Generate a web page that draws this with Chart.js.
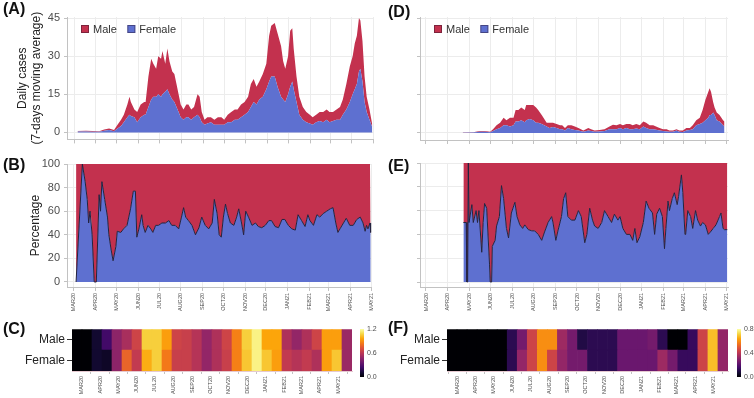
<!DOCTYPE html>
<html><head><meta charset="utf-8">
<script src="https://cdn.jsdelivr.net/npm/chart.js@4.4.1/dist/chart.umd.min.js"></script>
<style>
html,body{margin:0;padding:0;background:#fff;width:754px;height:398px;overflow:hidden;position:relative;font-family:"Liberation Sans",Arial,sans-serif}
canvas{position:absolute}
.pl{position:absolute;font-weight:bold;font-size:16px;line-height:16px;color:#111}
</style></head><body>
<canvas id="cA" width="380" height="150" style="left:0;top:0"></canvas>
<canvas id="cB" width="380" height="170" style="left:0;top:150px"></canvas>
<canvas id="cC" width="380" height="78" style="left:0;top:320px"></canvas>
<canvas id="cCbar" width="28" height="78" style="left:352px;top:320px"></canvas>
<canvas id="cD" width="374" height="150" style="left:380px;top:0"></canvas>
<canvas id="cE" width="374" height="170" style="left:380px;top:150px"></canvas>
<canvas id="cF" width="374" height="78" style="left:380px;top:320px"></canvas>
<canvas id="cFbar" width="26" height="78" style="left:728px;top:320px"></canvas>
<div class="pl" style="left:3px;top:1px">(A)</div>
<div class="pl" style="left:3px;top:157px">(B)</div>
<div class="pl" style="left:3px;top:321px">(C)</div>
<div class="pl" style="left:388px;top:4px">(D)</div>
<div class="pl" style="left:388px;top:158px">(E)</div>
<div class="pl" style="left:388px;top:320px">(F)</div>
<script>
// ---------- axis labels ----------
const MONTH_LABELS = ['MAR20','APR20','MAY20','JUN20','JUL20','AUG20','SEP20','OCT20','NOV20','DEC20','JAN21','FEB21','MAR21','APR21','MAY21'];
const MONTH_DAYS = [0,31,61,92,122,153,184,214,245,275,306,337,365,396,426]; // days since 1 Mar 2020
const SERIES = ['Male','Female'];
const CASE_TICKS = [0,15,30,45];
const PCT_TICKS = [0,20,40,60,80,100];
const BAR_TICKS_C = [0,0.6,1.2];
const BAR_TICKS_F = [0,0.4,0.8];

// ---------- (A) daily cases ----------
const aDays = [5,17,26,36,43,50,57,62,67,71,76,79,81,86,90,95,100,102,106,110,113,117,120,124,126,130,133,136,140,143,146,149,152,156,160,163,167,171,176,179,182,186,190,195,200,205,210,214,219,224,229,233,238,243,248,252,256,260,264,269,274,278,281,286,290,295,298,301,305,308,311,313,317,321,326,331,336,340,345,350,355,360,364,369,374,379,383,388,393,397,400,403,406,408,411,414,417,421,425];
const aFemale = [0.4,0.4,0.3,0.3,0.7,1,0.5,1.5,2.5,4,6,7,6.5,6,4,6,7,7,10,13,14,14,15,14,15,16,17,15,13,12,10,8,6,5,6,6,5,6,7,6,4,3,3.5,4,3,3,3,3,4,4,5,5,6,7,8,10,12,11,13,14,17,20,22,22,18,14,13,12,15,18,20,17,12,7,5,4,3.5,3,4,4.5,4,5,4,4.5,5,5,7,9,12,15,17,19,24,25,20,12,8,5,2];
const aMale = [0.2,0.3,0.3,0.2,0.5,0.5,0.5,1.5,2.5,3,5,7,5.5,3,4,5,5,5,12,16,13,11,15,15,17,11,16,13,11,11,9,7,5,4,5,5,4,4,8,8,4,2,2.5,2,2,3,3,2,3,4,4,4,5,5,6,9,9,7,7,9,10,18,20,21,21,20,15,13,15,22,21,16,10,7,5,4,3.5,3,3,3.5,4,4,4,3.5,4,5,6,10,14,15,18,19,21,19,16,10,6,4,1];

// ---------- (B) female percentage ----------
const bDays = [3,12,16,19,21,23,24,26,29,32,36,38,40,44,48,50,53,56,60,62,67,71,76,81,85,88,90,93,97,99,102,106,110,113,117,121,126,131,136,140,145,150,154,157,160,164,169,174,179,183,188,193,198,201,205,208,211,214,217,220,224,229,233,236,240,243,246,250,255,260,264,269,274,279,283,288,293,298,302,307,312,317,321,326,331,335,338,343,348,352,357,362,367,371,375,378,381,386,390,395,400,405,410,414,417,419,421,424,425];
const bFemalePct = [0,100,85,70,50,60,60,40,0,0,74,60,85,70,55,40,28,18,30,43,42,45,48,62,77,77,38,45,57,48,42,48,45,42,48,48,50,50,52,48,48,45,55,63,55,52,48,40,46,55,48,45,50,70,58,40,38,55,66,58,50,48,55,62,50,40,60,55,48,50,47,46,48,52,52,47,46,53,53,48,45,44,57,52,47,57,52,48,57,55,58,60,62,63,50,42,45,50,54,48,48,53,55,50,43,48,45,50,42];

// ---------- (C) heat map (semi-monthly) ----------
const cMale =   [0,0,0.10,0.24,0.46,0.54,0.66,1.06,1.06,0.94,0.66,0.64,0.58,0.48,0.56,0.66,0.86,1.06,1.16,0.96,0.96,0.56,0.48,0.56,0.66,0.94,0.94,0.50];
const cFemale = [0,0,0.10,0.08,0.46,0.78,0.62,0.98,1.06,0.84,0.64,0.64,0.58,0.48,0.56,0.64,0.86,1.04,1.16,1.04,0.94,0.62,0.58,0.62,0.56,0.94,1.04,0.50];

// ---------- (D) daily cases ----------
const dDays = [52,67,76,83,91,95,100,105,110,114,119,124,127,131,135,140,142,147,152,156,159,164,171,175,180,185,190,193,197,201,206,211,216,223,230,234,239,246,253,260,265,270,275,279,284,289,293,298,303,308,312,317,322,326,331,336,341,345,350,355,359,364,369,374,378,383,388,392,396,400,402,404,407,409,412,416,421,423];
const dFemale = [0.1,0.2,0.5,0.5,0.3,0.8,1.5,2,3,3,2.5,3,4.5,4.5,5,4.2,5,5.5,5,4,4,3.5,2.5,2,2.3,2,1.5,1.5,1,2,1.5,1.2,1,0.5,1,0.8,0.5,0.6,0.8,1.5,1.5,1.5,2,1.5,2,1.5,1.5,1.8,1.5,2.5,2,1.5,1.5,1.3,1,0.8,0.6,0.5,0.5,1,0.5,0.4,1,1.2,1.5,3,3.5,4,5,6,7,7,8,7,5,4.5,3,2.5];
const dMale = [0.1,0.1,0.3,0.3,0.2,0.7,1.5,2,3,2,3.5,3,4.5,4.5,5,4.8,6,5.5,6,6,5,3.5,1.5,2,1.7,1.5,1.5,1.5,1,1,1.5,1.3,1,0.5,1,0.7,0.5,0.6,0.7,1,1.7,1.5,1.5,1.5,1.5,2,1.5,1.7,1.5,2,2,1.5,1.5,1.2,1,0.7,0.9,0.5,0.5,0.5,0.5,0.6,1,0.8,1.5,2,2.5,5,8,10,10.5,9,4,3,3,2.5,2,2];

// ---------- (E) female percentage ----------
const eDays = [53,57,58,59,60,61,65,67,71,73,75,79,81,83,86,90,91,93,94,98,100,104,107,110,114,117,121,126,129,133,137,140,145,150,154,159,164,168,173,178,180,184,187,192,195,198,201,206,211,216,220,225,228,232,236,239,244,249,253,258,263,267,272,275,279,284,289,293,296,299,303,308,312,316,321,324,327,331,335,338,340,343,345,349,352,356,358,362,364,367,368,371,375,378,382,385,389,392,396,400,403,407,411,416,418,421,423,427];
const eFemalePct = [50,50,0,0,100,50,65,50,60,50,60,25,50,66,62,15,0,0,30,35,47,55,81,70,45,37,58,67,55,48,45,48,44,43,43,40,35,42,50,55,50,35,43,55,70,75,55,52,52,60,55,33,40,62,52,47,45,50,60,55,50,57,52,55,45,40,40,35,45,33,38,50,68,62,58,40,57,62,55,28,45,68,60,70,75,65,72,90,75,40,40,60,55,45,60,52,47,50,48,40,42,45,48,55,58,45,44,44];

// ---------- (F) heat map ----------
const fMale =   [0,0,0,0,0,0,0.12,0.26,0.44,0.60,0.60,0.34,0.26,0.10,0.12,0.12,0.12,0.24,0.24,0.24,0.26,0.12,0,0,0.14,0.44,0.68,0.32];
const fFemale = [0,0,0,0,0,0,0.12,0.32,0.44,0.60,0.44,0.32,0.26,0.26,0.12,0.12,0.12,0.24,0.24,0.24,0.24,0.34,0.26,0.14,0.14,0.44,0.68,0.32];

// ---------- styling ----------
const RED = '#c3314e', BLUE = '#5e70d0', LINE = '#23233f';
const GRID = '#ececec', AXIS = '#c2c2c2', TXT = '#4d4d4d';
const INFERNO = ['#000004','#160b39','#420a68','#6a176e','#932667','#bc3754','#dd513a','#f37819','#fca50a','#f6d746','#fcffa4'];
const SMALL = 5.5;
Chart.defaults.font.family = '"Liberation Sans", Arial, sans-serif';
Chart.defaults.color = TXT;
Chart.defaults.animation = false;
Chart.defaults.plugins.tooltip.enabled = false;

function hex(c){return [1,3,5].map(i=>parseInt(c.substr(i,2),16));}
function inferno(t){
  t = Math.max(0, Math.min(1, t)); const s = t*10, i = Math.min(9, Math.floor(s)), f = s - i;
  const a = hex(INFERNO[i]), b = hex(INFERNO[i+1]);
  return 'rgb(' + a.map((v,k)=>Math.round(v+(b[k]-v)*f)).join(',') + ')';
}
function pts(days, vals){ return days.map((d,i)=>({x:d, y:vals[i]})); }
function monthTicks(s){ s.ticks = MONTH_DAYS.map(v=>({value:v})); }
function monthLabel(v){ const i = MONTH_DAYS.indexOf(v); return i < 0 ? '' : MONTH_LABELS[i]; }

const inLegend = { id:'inLegend', afterDatasetsDraw(chart, args, o){
  if (!o || !o.show) return;
  const ctx = chart.ctx, ca = chart.chartArea;
  let x = ca.left + o.x; const y = ca.top + o.y;
  ctx.save(); ctx.font = '11px "Liberation Sans", Arial, sans-serif'; ctx.textBaseline = 'middle';
  chart.data.datasets.slice().reverse().forEach(ds => {
    ctx.fillStyle = ds.backgroundColor; ctx.fillRect(x, y, 8, 8);
    ctx.strokeStyle = 'rgba(40,20,40,0.45)'; ctx.lineWidth = 1; ctx.strokeRect(x+0.5, y+0.5, 7, 7);
    ctx.fillStyle = '#333'; ctx.fillText(ds.label, x + 12, y + 4.5);
    x += 12 + ctx.measureText(ds.label).width + o.gap;
  });
  ctx.restore();
}};

function casesChart(id, days, fem, male, cfg){
  return new Chart(id, {
    type:'line',
    data:{ datasets:[
      {label:SERIES[1], data:pts(days, fem), backgroundColor:BLUE, borderColor:'rgba(0,0,0,0)', borderWidth:1, fill:'origin', pointRadius:0},
      {label:SERIES[0], data:pts(days, male), backgroundColor:RED, borderColor:'rgba(0,0,0,0)', borderWidth:1, fill:'-1', pointRadius:0}
    ]},
    plugins:[inLegend],
    options:{ responsive:false, devicePixelRatio:1,
      layout:{padding:{top:17, right:cfg.padR, left:0, bottom:0}},
      plugins:{ legend:{display:false}, inLegend:{show:true, x:cfg.legX, y:8, gap:10.5} },
      scales:{
        x:{ type:'linear', min:cfg.xmin, max:cfg.xmax, afterBuildTicks:monthTicks, afterFit:s=>{s.height=10;},
            grid:{color:GRID, tickLength:4, tickColor:AXIS}, border:{color:AXIS}, ticks:{display:false} },
        y:{ stacked:true, min:-2.74, max:45.4, afterBuildTicks:s=>{s.ticks=CASE_TICKS.map(v=>({value:v}));},
            afterFit:s=>{s.width=cfg.yw;},
            grid:{color:GRID, tickLength:3, tickColor:AXIS}, border:{color:AXIS},
            ticks:{display:cfg.labels, font:{size:11}, padding:4, color:TXT},
            title:{display:cfg.labels, text:['Daily cases','(7-days moving average)'], font:{size:12}, color:'#222', padding:{top:15}} }
      }
    }
  });
}

function pctChart(id, days, fem, cfg){
  return new Chart(id, {
    type:'line',
    data:{ datasets:[
      {label:SERIES[1], data:pts(days, fem), backgroundColor:BLUE, borderColor:LINE, borderWidth:1, fill:'origin', pointRadius:0},
      {label:SERIES[0], data:pts(days, fem.map(v=>100-v)), backgroundColor:RED, borderColor:'rgba(0,0,0,0)', borderWidth:1, fill:'-1', pointRadius:0}
    ]},
    options:{ responsive:false, devicePixelRatio:1,
      layout:{padding:{top:cfg.padT, right:cfg.padR, left:0, bottom:0}},
      plugins:{ legend:{display:false} },
      scales:{
        x:{ type:'linear', min:cfg.xmin, max:cfg.xmax, afterBuildTicks:monthTicks, afterFit:s=>{s.height=33;},
            grid:{color:GRID, tickLength:4, tickColor:AXIS}, border:{color:AXIS},
            ticks:{font:{size:SMALL}, color:TXT, minRotation:90, maxRotation:90, padding:2, autoSkip:false, callback:monthLabel} },
        y:{ stacked:true, min:cfg.ymin, max:100, afterBuildTicks:s=>{s.ticks=PCT_TICKS.map(v=>({value:v}));},
            afterFit:s=>{s.width=cfg.yw;},
            grid:{color:GRID, tickLength:3, tickColor:AXIS}, border:{color:AXIS},
            ticks:{display:cfg.labels, font:{size:11}, padding:4, color:TXT},
            title:{display:cfg.labels, text:'Percentage', font:{size:12}, color:'#222', padding:{top:28}} }
      }
    }
  });
}

function heatChart(id, male, fem, vmax, cfg){
  const cells = [];
  MONTH_LABELS.slice(0,14).forEach(m=>{cells.push(m+'a'); cells.push(m+'b');});
  return new Chart(id, {
    type:'bar',
    data:{ labels:cells, datasets:[
      {label:SERIES[1], data:fem.map(()=>1), backgroundColor:fem.map(v=>inferno(v/vmax)), stack:'s'},
      {label:SERIES[0], data:male.map(()=>1), backgroundColor:male.map(v=>inferno(v/vmax)), stack:'s'}
    ]},
    options:{ responsive:false, devicePixelRatio:1,
      layout:{padding:{top:9, right:cfg.padR, left:0, bottom:0}},
      datasets:{bar:{barPercentage:1, categoryPercentage:1, borderWidth:0}},
      plugins:{ legend:{display:false} },
      scales:{
        x:{ display:false, stacked:true },
        x2:{ type:'linear', position:'bottom', min:cfg.xmin, max:cfg.xmax, afterBuildTicks:monthTicks, afterFit:s=>{s.height=27;},
             grid:{drawOnChartArea:false, tickLength:3, tickColor:AXIS}, border:{color:'#e6c9d0'},
             ticks:{font:{size:SMALL}, color:TXT, minRotation:90, maxRotation:90, padding:2, autoSkip:false, callback:monthLabel} },
        y:{ stacked:true, min:0, max:2, afterBuildTicks:s=>{s.ticks=[{value:0.5},{value:1.5}];}, afterFit:s=>{s.width=cfg.yw;},
            grid:{drawOnChartArea:false, tickLength:5, tickColor:'#333'}, border:{display:false},
            ticks:{font:{size:12}, color:'#222', padding:2, callback:v=> v>1 ? SERIES[0] : SERIES[1]} }
      }
    }
  });
}

function colorBar(id, vmax, ticks, padL, axisW){
  return new Chart(id, {
    type:'bar',
    data:{ labels:[''], datasets:[{ data:[vmax], barPercentage:1, categoryPercentage:1, borderWidth:0,
      backgroundColor:(c)=>{ const ca = c.chart.chartArea; if(!ca) return '#000';
        const g = c.chart.ctx.createLinearGradient(0, ca.bottom, 0, ca.top);
        INFERNO.forEach((col,i)=>g.addColorStop(i/10, col)); return g; } }]},
    options:{ responsive:false, devicePixelRatio:1,
      layout:{padding:{left:padL, top:9, bottom:21, right:0}},
      plugins:{ legend:{display:false} },
      scales:{
        x:{ display:false },
        y:{ position:'right', min:0, max:vmax, afterBuildTicks:s=>{s.ticks=ticks.map(v=>({value:v}));}, afterFit:s=>{s.width=axisW;},
            grid:{display:false, drawTicks:false}, border:{display:false},
            ticks:{font:{size:7}, color:TXT, padding:3, callback:v=>Number(v).toFixed(1)} }
      }
    }
  });
}

casesChart('cA', aDays, aFemale, aMale, {padR:7, yw:67, xmin:-10, xmax:426, legX:14, labels:true});
pctChart('cB', bDays, bFemalePct, {padT:14, padR:7, yw:67, xmin:-10, xmax:426, ymin:-4.24, labels:true});
heatChart('cC', cMale, cFemale, 1.2, {padR:28, yw:72, xmin:0, xmax:433.7});
colorBar('cCbar', 1.2, BAR_TICKS_C, 8, 16);
casesChart('cD', dDays, dFemale, dMale, {padR:26, yw:40, xmin:-8.5, xmax:428, legX:14, labels:false});
pctChart('cE', eDays, eFemalePct, {padT:13, padR:26, yw:40, xmin:-8.5, xmax:428, ymin:-4.2, labels:false});
heatChart('cF', fMale, fFemale, 0.8, {padR:26, yw:67, xmin:-1.6, xmax:435.3});
colorBar('cFbar', 0.8, BAR_TICKS_F, 9, 13);
</script>
</body></html>
